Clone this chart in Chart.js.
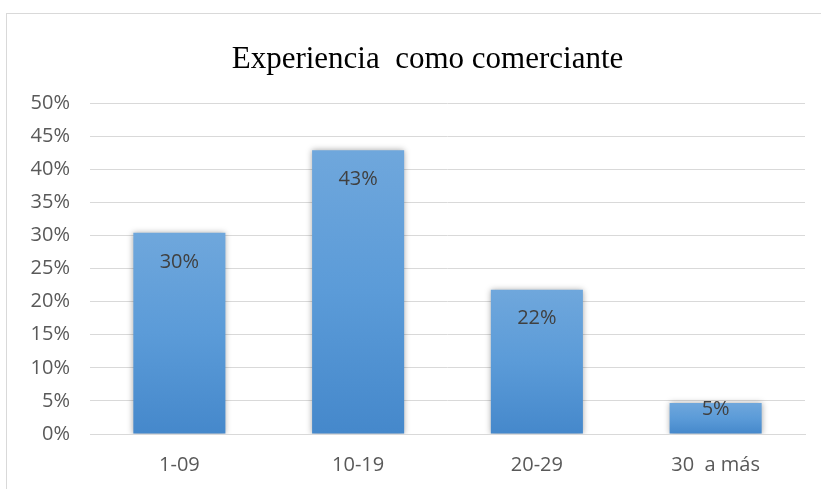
<!DOCTYPE html>
<html>
<head>
<meta charset="utf-8">
<script src="https://cdn.jsdelivr.net/npm/chart.js@4"></script>
<style>
  body { margin: 0; background: #fff; }
  #wrap {
    position: absolute; left: 6px; top: 13px;
    width: 814px; height: 475px;
    border-left: 1px solid #d9d9d9; border-top: 1px solid #d9d9d9;
  }
</style>
</head>
<body>
<div id="wrap"><canvas id="grafico" width="814" height="475"></canvas></div>
<script>
const categorias = ["1-09", "10-19", "20-29", "30  a más"];
const porcentajes = [30.4, 42.9, 21.8, 4.7];
const titulo = "Experiencia  como comerciante";

// sombra suave detrás de las barras
const sombra = {
  id: "sombra",
  beforeDatasetsDraw(chart) {
    const ctx = chart.ctx;
    ctx.save();
    ctx.shadowColor = "rgba(0,0,0,0.35)";
    ctx.shadowBlur = 6;
    ctx.shadowOffsetX = 0;
    ctx.shadowOffsetY = 0;
  },
  afterDatasetsDraw(chart) {
    chart.ctx.restore();
  },
};

// el título del original está algo corrido a la derecha
const moverTitulo = {
  id: "moverTitulo",
  afterLayout(chart) {
    if (chart.titleBlock) chart.titleBlock.left += 43;
  },
};

// etiquetas dentro del extremo de la barra
const etiquetas = {
  id: "etiquetas",
  afterDraw(chart) {
    const ctx = chart.ctx;
    const meta = chart.getDatasetMeta(0);
    ctx.save();
    ctx.font = "20px 'Open Sans'";
    ctx.fillStyle = "#404040";
    ctx.textAlign = "center";
    ctx.textBaseline = "middle";
    meta.data.forEach((bar, i) => {
      const alto = bar.base - bar.y;
      const y = bar.y + Math.min(29, alto * 0.2);
      ctx.fillText(Math.round(porcentajes[i]) + "%", bar.x, y);
    });
    ctx.restore();
  },
};

new Chart(document.getElementById("grafico"), {
  type: "bar",
  data: {
    labels: categorias,
    datasets: [
      {
        label: "Experiencia",
        data: porcentajes,
        backgroundColor: (c) => {
          const chart = c.chart;
          if (!chart.chartArea) return "#5b9bd5";
          const y = chart.scales.y;
          const top = y.getPixelForValue(c.raw);
          const bottom = y.getPixelForValue(0);
          const g = chart.ctx.createLinearGradient(0, top, 0, bottom);
          g.addColorStop(0, "#6fa7dc");
          g.addColorStop(0.5, "#5b9bd8");
          g.addColorStop(1, "#4588cb");
          return g;
        },
        barPercentage: 0.515,
        categoryPercentage: 1,
      },
    ],
  },
  options: {
    responsive: false,
    animation: false,
    layout: { padding: { left: 0, right: 16, top: 0, bottom: 0 } },
    plugins: {
      legend: { display: false },
      tooltip: { enabled: false },
      title: {
        display: true,
        text: titulo,
        color: "#000",
        font: { family: "'Liberation Serif', 'Times New Roman', serif", size: 31, weight: "normal" },
        padding: { top: 27, bottom: 25 },
      },
    },
    scales: {
      x: {
        afterFit(scale) { scale.height = 55; },
        grid: { display: false, drawTicks: false },
        border: { display: true, color: "#d9d9d9" },
        ticks: { color: "#595959", font: { family: "'Open Sans'", size: 20 }, padding: 19, maxRotation: 0 },
      },
      y: {
        min: 0,
        max: 50,
        afterFit(scale) { scale.width = 83; },
        grid: { color: "#d9d9d9", lineWidth: 1, drawTicks: false },
        border: { display: false },
        ticks: {
          stepSize: 5,
          color: "#595959",
          font: { family: "'Open Sans'", size: 20 },
          padding: 20,
          callback: (v) => v + "%",
        },
      },
    },
  },
  plugins: [sombra, moverTitulo, etiquetas],
});
</script>
</body>
</html>
